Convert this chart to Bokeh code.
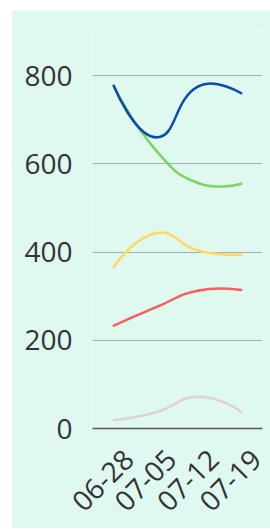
import math
from bokeh.plotting import figure
from bokeh.models import Range1d, FixedTicker, LinearAxis
from bokeh.embed import file_html
from bokeh.resources import INLINE

dates = ["06-28", "07-05", "07-12", "07-19"]
blue = [777, 660, 776, 760]
green = [777, 630, 556, 555]
yellow = [366, 443, 403, 394]
red = [233, 275, 313, 314]
gray = [19, 37, 72, 38]
y_ticks = [0, 200, 400, 600, 800]

series = [
    (gray, "#ddd3d7"),
    (red, "#ff5b5b"),
    (yellow, "#ffd95c"),
    (green, "#7ed55a"),
    (blue, "#0a4bb0"),
]

BG = "#dff8f0"
W, H = 259, 518
ML, MR, MT, MB = 81, 8, 21, 100
frame_w = W - ML - MR
frame_h = H - MT - MB
x_lo, x_hi = -0.5, len(dates) - 0.5
y_lo, y_hi = 0, 900
sx = frame_w / (x_hi - x_lo)
sy = frame_h / (y_hi - y_lo)

p = figure(width=W, height=H, output_backend="svg", toolbar_location=None,
           x_range=Range1d(x_lo, x_hi), y_range=Range1d(y_lo, y_hi),
           min_border_left=ML, min_border_right=MR, min_border_top=MT, min_border_bottom=MB)
p.styles = {"margin-left": "11px", "margin-top": "10px"}
p.background_fill_color = BG
p.border_fill_color = BG
p.outline_line_color = None


def smooth_segments(vals, smooth=0.5):
    xs = [i * sx for i in range(len(vals))]
    ys = [v * sy for v in vals]
    n = len(xs)
    segs = []
    cpx0, cpy0 = xs[0], ys[0]
    for i in range(1, n):
        x, y = xs[i], ys[i]
        px, py = xs[i - 1], ys[i - 1]
        if i + 1 >= n:
            ncx, ncy = x, y
            vx = vy = 0.0
            ratio = 0.0
        else:
            nx, ny = xs[i + 1], ys[i + 1]
            vx, vy = nx - px, ny - py
            lp = math.hypot(x - px, y - py)
            ln = math.hypot(nx - x, ny - y)
            ratio = ln / (ln + lp)
            ncx = x - vx * smooth * (1 - ratio)
            ncy = y - vy * smooth * (1 - ratio)
        segs.append((px / sx, py / sy, x / sx, y / sy, cpx0 / sx, cpy0 / sy, ncx / sx, ncy / sy))
        cpx0 = x + vx * smooth * ratio
        cpy0 = y + vy * smooth * ratio
    return segs


for vals, color in series:
    segs = smooth_segments(vals)
    cols = list(zip(*segs))
    p.bezier(x0=list(cols[0]), y0=list(cols[1]), x1=list(cols[2]), y1=list(cols[3]),
             cx0=list(cols[4]), cy0=list(cols[5]), cx1=list(cols[6]), cy1=list(cols[7]),
             line_color=color, line_width=2.5, line_cap="round")

p.xgrid.grid_line_color = None
p.ygrid.grid_line_color = "#a4b0ab"
p.ygrid.grid_line_width = 1
p.ygrid.ticker = FixedTicker(ticks=y_ticks)

ya = p.yaxis[0]
ya.ticker = FixedTicker(ticks=y_ticks)
ya.axis_line_color = None
ya.major_tick_line_color = None
ya.minor_tick_line_color = None
ya.major_tick_out = 0
ya.major_label_standoff = 20
ya.major_label_text_font = "Open Sans"
ya.major_label_text_font_size = "28px"
ya.major_label_text_color = "#333333"

# x labels sit a little right of their ticks, as in the reference
p.xaxis[0].visible = False
shift = 15.0 / sx
p.extra_x_ranges = {"lbl": Range1d(x_lo - shift, x_hi - shift)}
xa = LinearAxis(x_range_name="lbl")
xa.ticker = FixedTicker(ticks=list(range(len(dates))))
xa.major_label_overrides = {i: d for i, d in enumerate(dates)}
xa.axis_line_color = "#555555"
xa.axis_line_width = 1.5
xa.major_tick_line_color = None
xa.minor_tick_line_color = None
xa.major_tick_in = 0
xa.major_tick_out = 0
xa.major_label_standoff = 26
xa.major_label_orientation = math.pi / 4
xa.major_label_text_font = "Open Sans"
xa.major_label_text_font_size = "28px"
xa.major_label_text_color = "#333333"
p.add_layout(xa, "below")

open("out.html", "w").write(file_html(p, INLINE))
